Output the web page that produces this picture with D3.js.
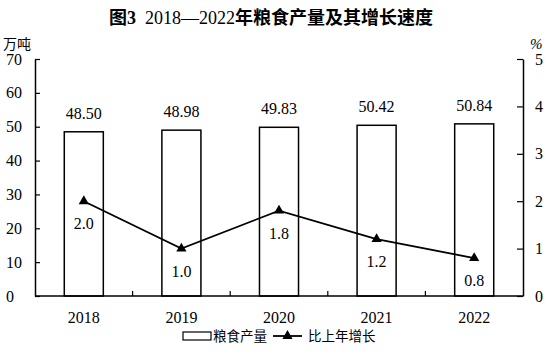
<!DOCTYPE html>
<meta charset="utf-8">
<script src="https://d3js.org/d3.v7.min.js"></script>
<style>
  body { margin: 0; background: #fff; }
  text { font-family: "Liberation Serif", "Noto Sans CJK SC", serif; fill: #000; }
</style>
<div id="chart"></div>
<script>

// data
var years = ["2018", "2019", "2020", "2021", "2022"];
var output = [48.50, 48.98, 49.83, 50.42, 50.84];   // 万吨
var growth = [2.0, 1.0, 1.8, 1.2, 0.8];             // %
var leftTicks = [0, 10, 20, 30, 40, 50, 60, 70];
var rightTicks = [0, 1, 2, 3, 4, 5];

var W = 550, H = 354;
var margin = {top: 59, right: 27, bottom: 58, left: 35},
    width = W - margin.left - margin.right,
    height = H - margin.top - margin.bottom;

var svg = d3.select("#chart")
  .append("svg")
    .attr("width", W)
    .attr("height", H);

// title (Latin part in regular weight, like the original)
var title = svg.append("text")
    .attr("x", 271)
    .attr("y", 24)
    .attr("text-anchor", "middle")
    .style("font-size", "18px")
    .style("font-weight", "bold")
    .attr("xml:space", "preserve");
title.append("tspan").text("图3");
title.append("tspan").style("font-weight", "normal").text("\u00a0\u00a02018—2022");
title.append("tspan").text("年粮食产量及其增长速度");

// unit labels
svg.append("text")
    .attr("x", 3)
    .attr("y", 49)
    .style("font-size", "14px")
    .text("万吨");
svg.append("text")
    .attr("x", 530)
    .attr("y", 49)
    .style("font-size", "15px")
    .style("font-style", "italic")
    .text("%");

var g = svg.append("g")
    .attr("transform", "translate(" + margin.left + "," + margin.top + ")");

// scales
var x = d3.scaleBand()
    .domain(years)
    .range([0, width])
    .paddingInner(0.6)
    .paddingOuter(0.3);

var yL = d3.scaleLinear().domain([0, 70]).range([height, 0]);
var yR = d3.scaleLinear().domain([0, 5]).range([height, 0]);

// category boundaries for the x ticks
var step = width / years.length;

// bars
g.selectAll(".bar")
  .data(output)
  .enter()
  .append("rect")
    .attr("x", function(d, i) { return x(years[i]); })
    .attr("y", function(d) { return yL(d); })
    .attr("width", x.bandwidth())
    .attr("height", function(d) { return height - yL(d); })
    .style("fill", "#fff")
    .style("stroke", "#000")
    .style("stroke-width", 1.5);

// bar value labels
g.selectAll(".blab")
  .data(output)
  .enter()
  .append("text")
    .attr("x", function(d, i) { return x(years[i]) + x.bandwidth() / 2; })
    .attr("y", function(d) { return yL(d) - 13; })
    .attr("text-anchor", "middle")
    .style("font-size", "16px")
    .text(function(d) { return d.toFixed(2); });

// left axis
var axL = g.append("g")
    .call(d3.axisLeft(yL).tickValues(leftTicks).tickSize(-5).tickPadding(0).tickSizeOuter(0));
axL.select(".domain").attr("stroke-width", 1.5);
axL.selectAll("line").attr("stroke-width", 1.2);
axL.selectAll("text")
    .attr("text-anchor", "start")
    .attr("x", 6 - margin.left)
    .style("font-size", "16px")
    .style("font-family", null);

// right axis
var axR = g.append("g")
    .attr("transform", "translate(" + width + ",0)")
    .call(d3.axisRight(yR).tickValues(rightTicks).tickFormat(d3.format("d"))
      .tickSize(-6).tickPadding(0).tickSizeOuter(0));
axR.select(".domain").attr("stroke-width", 1.5);
axR.selectAll("line").attr("stroke-width", 1.2);
axR.selectAll("text")
    .attr("x", 12)
    .style("font-size", "16px")
    .style("font-family", null);

// bottom axis
var xb = g.append("g").attr("transform", "translate(0," + height + ")");
xb.append("line")
    .attr("x1", 0).attr("x2", width)
    .attr("stroke", "#000").attr("stroke-width", 1.5);
xb.selectAll(".xt")
  .data(d3.range(1, years.length))
  .enter()
  .append("line")
    .attr("x1", function(d) { return d * step; })
    .attr("x2", function(d) { return d * step; })
    .attr("y1", 0).attr("y2", -5)
    .attr("stroke", "#000").attr("stroke-width", 1.2);
xb.selectAll(".xl")
  .data(years)
  .enter()
  .append("text")
    .attr("x", function(d) { return x(d) + x.bandwidth() / 2; })
    .attr("y", 27)
    .attr("text-anchor", "middle")
    .style("font-size", "16px")
    .text(function(d) { return d; });

// growth line
var line = d3.line()
    .x(function(d, i) { return x(years[i]) + x.bandwidth() / 2; })
    .y(function(d) { return yR(d); });

g.append("path")
    .datum(growth)
    .attr("d", line)
    .style("fill", "none")
    .style("stroke", "#000")
    .style("stroke-width", 1.8);

var tri = d3.symbol().type(d3.symbolTriangle).size(45);

g.selectAll(".pt")
  .data(growth)
  .enter()
  .append("path")
    .attr("d", tri)
    .attr("transform", function(d, i) {
      return "translate(" + (x(years[i]) + x.bandwidth() / 2) + "," + yR(d) + ")";
    })
    .style("fill", "#000");

g.selectAll(".plab")
  .data(growth)
  .enter()
  .append("text")
    .attr("x", function(d, i) { return x(years[i]) + x.bandwidth() / 2; })
    .attr("y", function(d) { return yR(d) + 28; })
    .attr("text-anchor", "middle")
    .style("font-size", "16px")
    .text(function(d) { return d.toFixed(1); });

// legend
var lg = svg.append("g").attr("transform", "translate(0,336)");
lg.append("rect")
    .attr("x", 183).attr("y", -4)
    .attr("width", 28).attr("height", 8)
    .style("fill", "#fff").style("stroke", "#000").style("stroke-width", 1.2);
lg.append("text")
    .attr("x", 213).attr("y", 5)
    .style("font-size", "13.5px")
    .text("粮食产量");
lg.append("line")
    .attr("x1", 273).attr("x2", 302)
    .attr("stroke", "#000").attr("stroke-width", 1.8);
lg.append("path")
    .attr("d", tri)
    .attr("transform", "translate(287.5,0)")
    .style("fill", "#000");
lg.append("text")
    .attr("x", 308).attr("y", 5)
    .style("font-size", "13.5px")
    .text("比上年增长");

</script>
